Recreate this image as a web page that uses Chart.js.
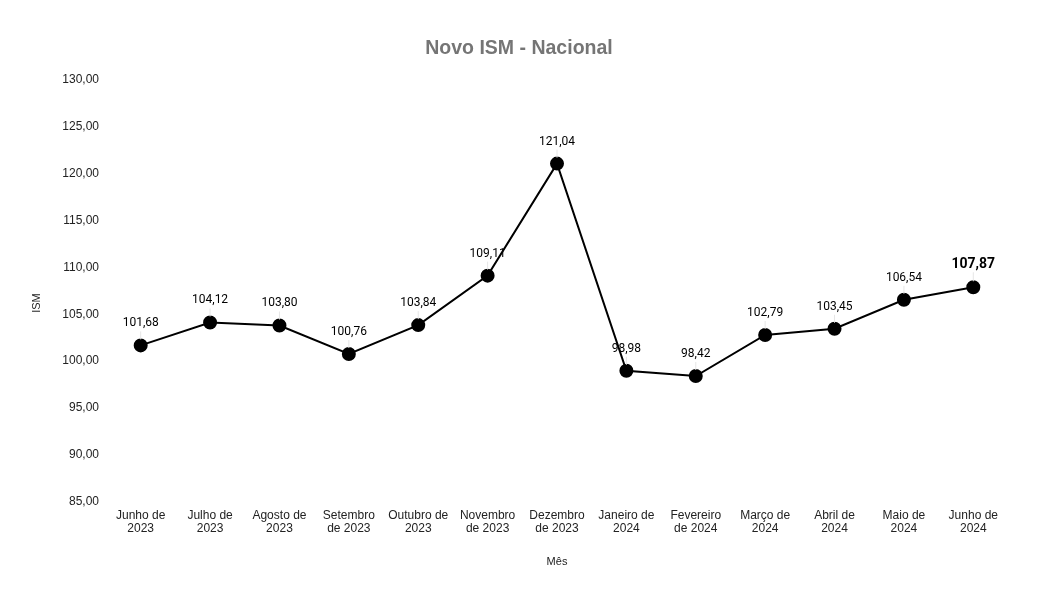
<!DOCTYPE html>
<html>
<head>
<meta charset="utf-8">
<script src="https://cdn.jsdelivr.net/npm/chart.js@4/dist/chart.umd.min.js"></script>
<style>
  html, body { margin: 0; padding: 0; background: #fff; }
  #wrap { width: 1038px; height: 597px; }
</style>
</head>
<body>
<div id="wrap"><canvas id="c" width="1038" height="597"></canvas></div>
<script>
const categories = [
  ["Junho de", "2023"], ["Julho de", "2023"], ["Agosto de", "2023"], ["Setembro", "de 2023"],
  ["Outubro de", "2023"], ["Novembro", "de 2023"], ["Dezembro", "de 2023"], ["Janeiro de", "2024"],
  ["Fevereiro", "de 2024"], ["Março de", "2024"], ["Abril de", "2024"], ["Maio de", "2024"],
  ["Junho de", "2024"]
];
const ismValues = [101.68, 104.12, 103.80, 100.76, 103.84, 109.11, 121.04, 98.98, 98.42, 102.79, 103.45, 106.54, 107.87];
const yMin = 85;
const yMax = 130;
const yStep = 5;

const fmt = v => v.toFixed(2).replace('.', ',');

const labelPlugin = {
  id: 'pointLabels',
  afterDatasetsDraw(chart) {
    const ctx = chart.ctx;
    const meta = chart.getDatasetMeta(0);
    const last = meta.data.length - 1;
    ctx.save();
    meta.data.forEach((pt, i) => {
      const isLast = i === last;
      const off = isLast ? 23 : 22;
      ctx.strokeStyle = '#e6e6e6';
      ctx.lineWidth = 1;
      ctx.beginPath();
      ctx.moveTo(pt.x, pt.y - off + 8);
      ctx.lineTo(pt.x, pt.y - 6);
      ctx.stroke();
      ctx.fillStyle = '#000';
      ctx.font = (isLast ? 'bold 14px' : '12px') + ' Roboto';
      ctx.textAlign = 'center';
      ctx.textBaseline = 'middle';
      ctx.fillText(fmt(ismValues[i]), pt.x, pt.y - off);
    });
    ctx.save();
    ctx.translate(37, 303);
    ctx.rotate(-Math.PI / 2);
    ctx.font = '11px "Liberation Sans", Arial, sans-serif';
    ctx.fillStyle = '#222';
    ctx.textAlign = 'center';
    ctx.textBaseline = 'middle';
    ctx.fillText('ISM', 0, 0);
    ctx.restore();
    ctx.restore();
  }
};

new Chart(document.getElementById('c'), {
  type: 'line',
  data: {
    labels: categories,
    datasets: [{
      data: ismValues,
      borderColor: '#000',
      backgroundColor: '#000',
      borderWidth: 2,
      pointRadius: 6,
      pointHoverRadius: 6,
      pointBackgroundColor: '#000',
      pointBorderColor: '#000',
      tension: 0
    }]
  },
  options: {
    responsive: false,
    animation: false,
    devicePixelRatio: 1,
    layout: { padding: 0 },
    plugins: {
      legend: { display: false },
      tooltip: { enabled: false },
      title: {
        display: true,
        text: 'Novo ISM - Nacional',
        color: '#757575',
        font: { family: '"Liberation Sans", Arial, sans-serif', size: 19.5, weight: 'bold', lineHeight: 1.2 },
        padding: { top: 36.5, bottom: 19.6 }
      }
    },
    scales: {
      x: {
        type: 'category',
        offset: true,
        grid: { display: false, drawTicks: false },
        border: { display: false },
        ticks: {
          color: '#222',
          font: { family: '"Liberation Sans", Arial, sans-serif', size: 12, lineHeight: 1.12 },
          padding: 6.5,
          maxRotation: 0,
          autoSkip: false
        },
        title: {
          display: true,
          text: 'Mês',
          color: '#222',
          font: { family: '"Liberation Sans", Arial, sans-serif', size: 11, lineHeight: 1.2 },
          padding: { top: 0, bottom: 28.5 }
        },
        afterFit(scale) { scale.height = 95; }
      },
      y: {
        min: yMin,
        max: yMax,
        grid: { display: false, drawTicks: false },
        border: { display: false },
        ticks: {
          stepSize: yStep,
          color: '#222',
          font: { family: '"Liberation Sans", Arial, sans-serif', size: 12 },
          padding: 7,
          callback: v => fmt(v)
        },
        afterFit(scale) { scale.width = 106; }
      },
      yRight: {
        position: 'right',
        display: true,
        grid: { display: false, drawTicks: false },
        border: { display: false },
        ticks: { display: false },
        afterFit(scale) { scale.width = 30; }
      }
    }
  },
  plugins: [labelPlugin]
});
</script>
</body>
</html>
